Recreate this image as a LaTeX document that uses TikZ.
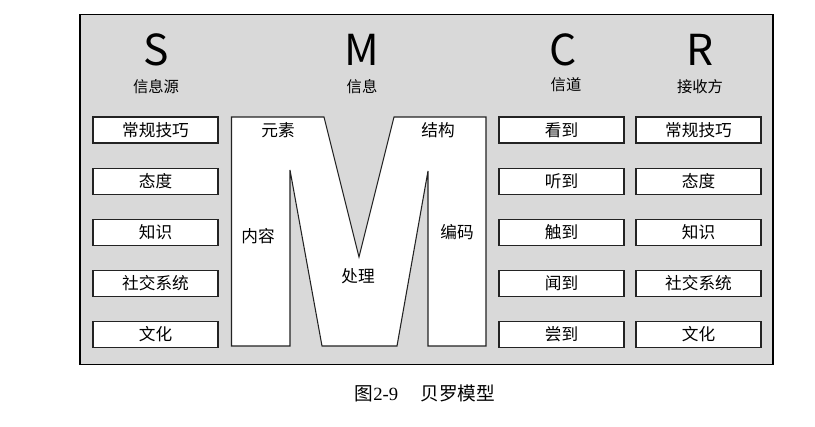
\documentclass[tikz,border=0pt]{standalone}
\usepackage{fontspec}
\setmainfont{Noto Sans CJK SC}
\newfontfamily\capfont{Liberation Serif}
\usetikzlibrary{positioning}
\definecolor{panelgray}{RGB}{217,217,217}
\definecolor{edgegray}{RGB}{35,35,35}

\begin{document}
\begin{tikzpicture}[
        x=0.75pt, y=-0.75pt,
        node distance=18pt,
        itembox/.style={rectangle, draw=edgegray, fill=white, line width=0.8pt, minimum width=93.75pt, minimum height=19.5pt, inner sep=0pt, font=\fontsize{12.5}{14}\selectfont},
        letter/.style={inner sep=0pt, font=\fontsize{32}{34}\selectfont},
        title/.style={inner sep=0pt, font=\fontsize{11.5}{13}\selectfont},
        mlabel/.style={inner sep=0pt, font=\fontsize{12.5}{14}\selectfont}
    ]
        \useasboundingbox (0,0) rectangle (815,426);
        \draw[fill=panelgray, line width=1pt] (80,14.5) rectangle (773,364.5);

        % headers
        \node[letter] (S) at (156,50) {S};
        \node[letter] (M) at (362,50) {M};
        \node[letter] (C) at (563,50) {C};
        \node[letter] (R) at (700,50) {R};
        \node[title] (Ssub) at (156,87) {信息源};
        \node[title] (Msub) at (362,87) {信息};
        \node[title] (Csub) at (566,85) {信道};
        \node[title] (Rsub) at (700,87) {接收方};

        % source
        \node[itembox] (s1) at (155.5,130) {常规技巧};
        \node[itembox, below=of s1] (s2) {态度};
        \node[itembox, below=of s2] (s3) {知识};
        \node[itembox, below=of s3] (s4) {社交系统};
        \node[itembox, below=of s4] (s5) {文化};

        % channel
        \node[itembox] (c1) at (561.5,130) {看到};
        \node[itembox, below=of c1] (c2) {听到};
        \node[itembox, below=of c2] (c3) {触到};
        \node[itembox, below=of c3] (c4) {闻到};
        \node[itembox, below=of c4] (c5) {尝到};

        % receiver
        \node[itembox] (r1) at (698.5,130) {常规技巧};
        \node[itembox, below=of r1] (r2) {态度};
        \node[itembox, below=of r2] (r3) {知识};
        \node[itembox, below=of r3] (r4) {社交系统};
        \node[itembox, below=of r4] (r5) {文化};

        % message letter
        \draw[fill=white, draw=edgegray, line width=0.8pt] (231.5,346) -- (231.5,117) -- (324,117) -- (359,257) -- (394,117) -- (486,117) -- (486,346) -- (428,346) -- (428,171) -- (397,346) -- (322,346) -- (290,170) -- (290,346) -- cycle;
        \node[mlabel] (elem) at (278,130) {元素};
        \node[mlabel] (struct) at (438,130) {结构};
        \node[mlabel] (content) at (258,236) {内容};
        \node[mlabel] (code) at (457,232) {编码};
        \node[mlabel] (treat) at (358,276) {处理};

        \node[font=\fontsize{14}{16}\selectfont] (caption) at (425,393) {图{\capfont 2-9}\hspace{1.2em}贝罗模型};
    \end{tikzpicture}
\end{document}
